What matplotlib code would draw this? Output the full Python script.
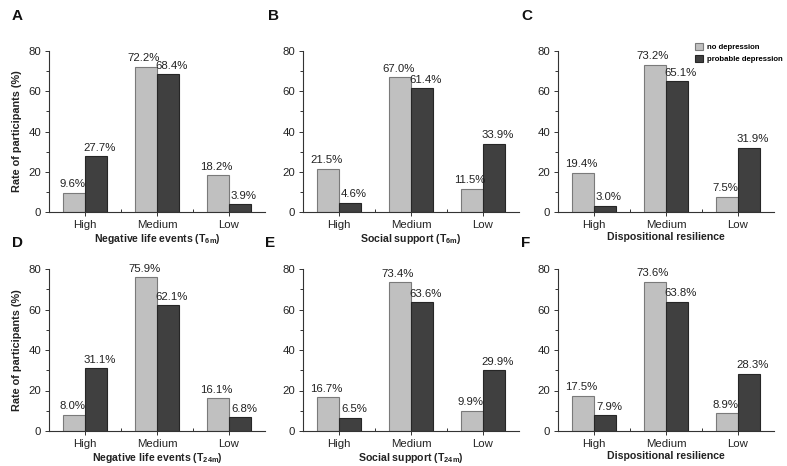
import matplotlib
matplotlib.use("Agg")
import matplotlib.pyplot as plt
import numpy as np
from matplotlib.ticker import MultipleLocator, FixedLocator

plt.rcParams['font.family'] = ['Liberation Sans', 'DejaVu Sans']
plt.rcParams['mathtext.fontset'] = 'custom'
plt.rcParams['mathtext.rm'] = 'Liberation Sans'
plt.rcParams['mathtext.bf'] = 'Liberation Sans:bold'

categories = ["High", "Medium", "Low"]
series_names = ["no depression", "probable depression"]

no_dep_A = [9.6, 72.2, 18.2]
prob_dep_A = [27.7, 68.4, 3.9]
no_dep_B = [21.5, 67.0, 11.5]
prob_dep_B = [4.6, 61.4, 33.9]
no_dep_C = [19.4, 73.2, 7.5]
prob_dep_C = [3.0, 65.1, 31.9]
no_dep_D = [8.0, 75.9, 16.1]
prob_dep_D = [31.1, 62.1, 6.8]
no_dep_E = [16.7, 73.4, 9.9]
prob_dep_E = [6.5, 63.6, 29.9]
no_dep_F = [17.5, 73.6, 8.9]
prob_dep_F = [7.9, 63.8, 28.3]

panel_letters = ["A", "B", "C", "D", "E", "F"]
xlabels = [r"Negative life events (T$_{\mathbf{6m}}$)",
           r"Social support (T$_{\mathbf{6m}}$)",
           "Dispositional resilience",
           r"Negative life events (T$_{\mathbf{24m}}$)",
           r"Social support (T$_{\mathbf{24m}}$)",
           "Dispositional resilience"]
panels = [(no_dep_A, prob_dep_A), (no_dep_B, prob_dep_B), (no_dep_C, prob_dep_C),
          (no_dep_D, prob_dep_D), (no_dep_E, prob_dep_E), (no_dep_F, prob_dep_F)]

W, H = 787, 466
fig = plt.figure(figsize=(W / 100, H / 100), dpi=100)

lefts = [49, 303, 558]
width_px = 216
rows = [(51, 212), (269, 431)]
letter_pos = [(12, 16), (268, 16), (521, 16), (12, 243), (265, 243), (521, 243)]

light = "#c0c0c0"
light_edge = "#7a7a7a"
dark = "#404040"
dark_edge = "#262626"
txt = "#222222"
bw = 0.3
fs = 8.2

x = np.arange(len(categories))
for i, (nd, pd_) in enumerate(panels):
    r, c = divmod(i, 3)
    top, bot = rows[r]
    ax = fig.add_axes([lefts[c] / W, 1 - bot / H, width_px / W, (bot - top) / H])
    b1 = ax.bar(x - bw / 2, nd, bw, color=light, edgecolor=light_edge, linewidth=0.8,
                label=series_names[0])
    b2 = ax.bar(x + bw / 2, pd_, bw, color=dark, edgecolor=dark_edge, linewidth=0.8,
                label=series_names[1])
    for bars, vals, dx in ((b1, nd, -1.5), (b2, pd_, 3)):
        for b, v in zip(bars, vals):
            ax.annotate(f"{v:.1f}%", (b.get_x() + b.get_width() / 2, v),
                        xytext=(dx, 2.5), textcoords="offset points",
                        ha="center", va="bottom", fontsize=fs, color=txt)
    ax.set_xlim(-0.5, 2.5)
    ax.set_ylim(0, 80)
    ax.set_xticks(x)
    ax.set_xticklabels(categories)
    ax.xaxis.set_minor_locator(FixedLocator([0.5, 1.5]))
    ax.yaxis.set_major_locator(MultipleLocator(20))
    ax.yaxis.set_minor_locator(MultipleLocator(10))
    ax.tick_params(axis='both', which='major', labelsize=fs, labelcolor=txt,
                   length=3, width=0.7, direction='out', color="#333333", pad=2.5)
    ax.tick_params(axis='x', which='minor', length=2.5, width=0.7, direction='in',
                   color="#333333")
    ax.tick_params(axis='y', which='minor', length=2, width=0.7, direction='out',
                   color="#333333")
    for s in ("top", "right"):
        ax.spines[s].set_visible(False)
    for s in ("left", "bottom"):
        ax.spines[s].set_linewidth(0.8)
        ax.spines[s].set_color("#333333")
    ax.set_xlabel(xlabels[i], fontsize=7.6, fontweight="bold", color=txt, labelpad=2)
    if c == 0:
        ax.set_ylabel("Rate of participants (%)", fontsize=7.8, fontweight="bold",
                      color=txt, labelpad=5)
    lx, ly = letter_pos[i]
    fig.text(lx / W, 1 - ly / H, panel_letters[i], fontsize=11, fontweight="bold",
             ha="left", va="center", color="#111111")
    if i == 2:
        ax.legend(loc="upper left", bbox_to_anchor=(695 / W, 1 - 43 / H),
                  bbox_transform=fig.transFigure, frameon=False,
                  prop={'size': 5.6, 'weight': 'bold'}, handlelength=1.0,
                  handleheight=1.0, handletextpad=0.5, labelspacing=0.5,
                  borderaxespad=0, borderpad=0)

fig.savefig("out.png", dpi=100)
